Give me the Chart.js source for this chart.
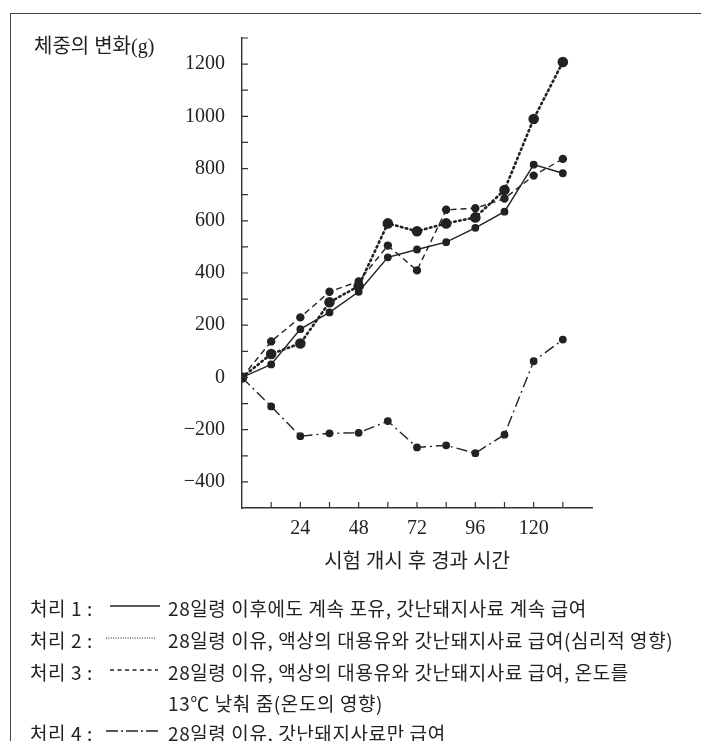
<!DOCTYPE html>
<html>
<head>
<meta charset="utf-8">
<script src="https://cdn.jsdelivr.net/npm/chart.js@4.4.1/dist/chart.umd.min.js"></script>
<style>
  html, body { margin: 0; padding: 0; background: #fff; }
  body { width: 701px; height: 741px; position: relative; overflow: hidden; }
  #frame { position: absolute; left: 10px; top: 13px; width: 720px; height: 730px;
           border: 1.5px solid #444; box-sizing: border-box; }
  #ytitle { position: absolute; left: 34px; top: 30px; font: 20px "Liberation Serif", "Noto Sans CJK KR";
            color: #222; white-space: nowrap; }
  .row { position: absolute; left: 0; height: 24px; line-height: 24px;
         font: 19px "Noto Sans CJK KR", sans-serif; letter-spacing: 0.6px; color: #222; }
  .row .lab { position: absolute; left: 30px; white-space: nowrap; }
  .row svg { position: absolute; left: 104px; top: 0; }
  .row .txt { position: absolute; left: 168px; white-space: nowrap; }
</style>
</head>
<body>
<div id="frame"></div>
<canvas id="myChart" width="701" height="590"></canvas>
<div id="ytitle">체중의 변화(g)</div>

<div class="row" style="top:594px">
  <span class="lab">처리 1 :</span>
  <svg width="60" height="24"><line x1="6" y1="12" x2="56" y2="12" stroke="#222" stroke-width="1.3"/></svg>
  <span class="txt">28일령 이후에도 계속 포유, 갓난돼지사료 계속 급여</span>
</div>
<div class="row" style="top:626px">
  <span class="lab">처리 2 :</span>
  <svg width="60" height="24"><line x1="2" y1="12" x2="52" y2="12" stroke="#222" stroke-width="1.2" stroke-dasharray="1 1.4"/></svg>
  <span class="txt">28일령 이유, 액상의 대용유와 갓난돼지사료 급여(심리적 영향)</span>
</div>
<div class="row" style="top:658px">
  <span class="lab">처리 3 :</span>
  <svg width="60" height="24"><line x1="6" y1="12" x2="54" y2="12" stroke="#222" stroke-width="1.3" stroke-dasharray="4 3.5"/></svg>
  <span class="txt">28일령 이유, 액상의 대용유와 갓난돼지사료 급여, 온도를</span>
</div>
<div class="row" style="top:689px">
  <span class="txt">13℃ 낮춰 줌(온도의 영향)</span>
</div>
<div class="row" style="top:719px">
  <span class="lab">처리 4 :</span>
  <svg width="60" height="24"><line x1="2" y1="12" x2="55" y2="12" stroke="#222" stroke-width="1.3" stroke-dasharray="12 3 2 3"/></svg>
  <span class="txt">28일령 이유, 갓난돼지사료만 급여</span>
</div>

<script>
// hours after start of test
const hours = [0, 12, 24, 36, 48, 60, 72, 84, 96, 108, 120, 132];
// body weight change (g)
const treat1 = [0, 50, 185, 249, 328, 460, 490, 518, 573, 635, 815, 782];
const treat2 = [0, 90, 130, 288, 350, 590, 560, 590, 613, 718, 990, 1208];
const treat3 = [0, 138, 230, 328, 368, 505, 410, 642, 648, 685, 773, 837];
const treat4 = [0, -111, -225, -214, -212, -167, -268, -260, -290, -219, 62, 145];

const xLabels = [24, 48, 72, 96, 120];
const yLabels = [-400, -200, 0, 200, 400, 600, 800, 1000, 1200];
const X_MIN = 0, X_MAX = 144;
const Y_MIN = -500, Y_MAX = 1300;

const ink = "#222";

function pts(vals) {
    return hours.map((h, i) => ({ x: h, y: vals[i] }));
}

// small tick marks pointing into the plot, like the printed figure
const innerTicks = {
    id: "innerTicks",
    afterDraw(chart) {
        const { ctx, chartArea, scales } = chart;
        ctx.save();
        ctx.strokeStyle = "#333";
        ctx.lineWidth = 1.2;
        ctx.beginPath();
        scales.y.ticks.forEach(t => {
            if (t.value <= Y_MIN) return;
            const y = scales.y.getPixelForValue(t.value);
            ctx.moveTo(chartArea.left, y);
            ctx.lineTo(chartArea.left + 6, y);
        });
        scales.x.ticks.forEach(t => {
            if (t.value <= X_MIN || t.value >= X_MAX) return;
            const x = scales.x.getPixelForValue(t.value);
            ctx.moveTo(x, chartArea.bottom);
            ctx.lineTo(x, chartArea.bottom - 6);
        });
        ctx.stroke();
        ctx.restore();
    }
};

const tickFont = { family: "'Liberation Serif', serif", size: 20 };

const myChart = new Chart("myChart", {
    type: "line",
    data: {
        datasets: [
            {
                label: "처리 1",
                data: pts(treat1),
                borderColor: ink,
                backgroundColor: ink,
                borderWidth: 1.4,
                pointRadius: 3.2,
                fill: false
            },
            {
                label: "처리 2",
                data: pts(treat2),
                borderColor: ink,
                backgroundColor: ink,
                borderWidth: 2.6,
                borderDash: [1.5, 3.5],
                borderCapStyle: "round",
                pointRadius: 4,
                fill: false
            },
            {
                label: "처리 3",
                data: pts(treat3),
                borderColor: ink,
                backgroundColor: ink,
                borderWidth: 1.4,
                borderDash: [6, 4],
                pointRadius: 3.5,
                fill: false
            },
            {
                label: "처리 4",
                data: pts(treat4),
                borderColor: ink,
                backgroundColor: ink,
                borderWidth: 1.4,
                borderDash: [11, 4, 2, 4],
                pointRadius: 3.2,
                fill: false
            }
        ]
    },
    options: {
        responsive: false,
        animation: false,
        layout: { padding: { left: 0, right: 109, top: 38, bottom: 0 } },
        plugins: {
            legend: { display: false },
            tooltip: { enabled: false }
        },
        scales: {
            x: {
                type: "linear",
                min: X_MIN,
                max: X_MAX,
                afterFit(scale) { scale.height = 82; },
                grid: { display: true, drawOnChartArea: false, drawTicks: false },
                border: { display: true, color: "#333", width: 1.4 },
                ticks: {
                    stepSize: 12,
                    autoSkip: false,
                    maxRotation: 0,
                    padding: 9,
                    color: ink,
                    font: tickFont,
                    callback: v => xLabels.includes(v) ? String(v) : ""
                },
                title: {
                    display: true,
                    text: "시험 개시 후 경과 시간",
                    color: ink,
                    font: { family: "'Liberation Serif', 'Noto Sans CJK KR'", size: 20 },
                    padding: { top: 0, bottom: 15 }
                }
            },
            y: {
                min: Y_MIN,
                max: Y_MAX,
                afterFit(scale) { scale.width = 242; },
                grid: { display: true, drawOnChartArea: false, drawTicks: false },
                border: { display: true, color: "#333", width: 1.4 },
                ticks: {
                    stepSize: 100,
                    autoSkip: false,
                    padding: 17,
                    color: ink,
                    font: tickFont,
                    callback: v => yLabels.includes(v) ? (v < 0 ? "\u2212" + Math.abs(v) : String(v)) : ""
                }
            }
        }
    },
    plugins: [innerTicks]
});
</script>
</body>
</html>
